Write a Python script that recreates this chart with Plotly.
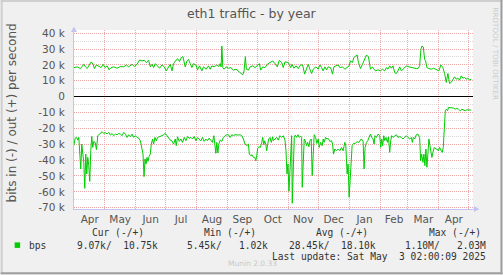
import pandas as pd
import plotly.graph_objects as go

# ---------------- data (values in kbit/s, day offsets from 2024-04-01) ----------------
BASE = "2024-04-01"

out_days = [-1.0, 2.4, 5.7, 9.0, 10.7, 12.4, 14.0, 16.4, 18.4, 19.7, 21.7, 24.0, 26.4, 28.4, 30.4,
            32.4, 34.4, 36.4, 39.0, 42.4, 45.7, 49.0, 51.7, 54.0, 57.4, 59.7, 62.4, 65.0, 67.4,
            69.7, 71.7, 74.0, 75.7, 77.4, 79.0, 80.7, 83.0, 85.0, 87.4, 89.7, 91.7, 93.7, 95.7,
            97.4, 99.0, 101.0, 103.0, 105.0, 106.7, 108.4, 110.7, 112.4, 114.0, 115.7, 117.4,
            119.0, 121.7, 123.0, 125.0, 127.4, 129.0, 131.7, 134.0, 135.7, 137.4, 139.7, 142.4,
            144.4, 145.7, 146.7, 147.4, 148.4, 149.7, 151.7, 154.0, 156.4, 159.0, 161.7, 164.0,
            166.4, 168.4, 169.7, 171.0, 172.0, 174.0, 175.7, 178.4, 180.7, 183.0, 185.0, 186.4,
            188.4, 190.7, 193.0, 195.7, 198.4, 200.7, 203.0, 205.0, 207.4, 209.0, 210.7, 214.0,
            216.4, 217.7, 219.7, 221.7, 224.0, 226.4, 228.4, 230.4, 232.4, 234.0, 235.7, 237.4,
            239.0, 241.7, 244.0, 245.7, 247.4, 249.0, 250.7, 252.4, 254.0, 256.4, 258.4, 259.7,
            261.7, 264.0, 265.7, 268.4, 270.7, 273.0, 275.0, 276.4, 278.4, 279.7, 281.7, 283.0,
            284.4, 286.4, 288.4, 290.0, 292.4, 294.4, 296.4, 298.4, 299.7, 301.7, 304.0, 306.4,
            308.4, 310.7, 312.4, 314.0, 315.7, 317.4, 319.0, 320.7, 322.4, 324.0, 325.7, 327.4,
            329.0, 330.7, 332.4, 335.0, 337.4, 339.7, 342.4, 344.4, 345.7, 347.0, 348.0, 349.4,
            350.7, 351.7, 353.0, 355.0, 357.4, 359.7, 361.7, 363.7, 365.0, 367.0, 369.0, 370.7,
            372.4, 374.0, 375.7, 377.4, 379.0, 380.7, 382.4, 384.0, 385.7, 387.4, 389.0, 390.7,
            392.4, 394.0, 395.7, 397.4]
out_k = [18.3, 18.75, 17.7, 20.4, 18.75, 17.7, 19.4, 21.9, 20.4, 17.7, 20.0, 19.0, 18.3, 20.4, 18.3,
         19.4, 16.9, 18.3, 18.75, 17.9, 19.0, 18.75, 20.0, 18.75, 20.4, 19.0, 20.4, 23.1, 22.5,
         22.9, 21.5, 22.9, 18.75, 20.4, 18.3, 20.8, 19.4, 17.9, 20.0, 18.75, 16.25, 18.3, 20.4,
         16.25, 20.8, 22.5, 24.0, 22.1, 24.6, 25.2, 18.75, 22.5, 23.5, 20.8, 18.3,
         20.8, 19.8, 16.9, 19.4, 16.25, 18.75, 17.3, 19.4, 17.3, 19.4, 18.75, 20.0,
         19.0, 20.8, 18.75, 31.9, 18.3, 17.3, 18.75, 17.9, 18.3, 16.7, 17.3, 16.25,
         15.2, 13.75, 16.25, 25.2, 17.3, 16.7, 18.75, 19.4, 18.3, 19.4, 20.8, 16.7,
         18.75, 18.3, 20.4, 21.5, 22.5, 20.8, 18.75, 22.9, 21.5, 18.3, 21.9, 21.5,
         18.3, 20.4, 17.9, 19.4, 17.7, 20.0, 20.0, 14.2, 18.3, 20.4, 17.3, 14.6,
         17.3, 18.75, 17.3, 20.0, 18.3, 16.25, 18.75, 16.9, 18.75, 18.3, 14.2, 18.75,
         19.4, 20.0, 18.3, 18.75, 17.3, 18.3, 19.4, 22.5, 21.5, 24.6, 25.6, 26.3,
         21.5, 17.7, 20.4, 22.5, 26.3, 25.0, 17.3, 18.75, 17.3, 16.25, 16.9, 16.25,
         17.3, 16.25, 18.3, 17.3, 19.4, 17.9, 19.4, 15.2, 14.6, 16.25, 18.75, 16.25,
         17.3, 18.3, 19.4, 18.75, 18.3, 17.9, 17.7, 17.9, 19.4, 29.8, 31.9, 31.3,
         23.5, 22.5, 18.3, 17.7, 17.3, 17.9, 17.3, 16.25, 16.25, 20.0, 18.3, 14.6,
         9.0, 14.6, 8.3, 9.0, 10.4, 12.5, 11.0, 11.7, 10.4, 13.1, 11.7, 12.1,
         11.0, 11.7, 10.4, 11.0]

in_days = [-1.0, 0.4, 1.7, 3.0, 4.0, 5.0, 6.0, 7.0, 8.0, 9.0, 10.0, 11.0, 12.0, 13.0, 14.0, 15.0,
           16.0, 17.0, 18.0, 19.0, 20.4, 21.7, 23.0, 24.4, 25.7, 27.4, 29.0, 30.7, 32.4, 34.0,
           35.7, 37.4, 39.0, 40.7, 42.4, 44.0, 45.7, 47.4, 49.0, 50.7, 52.4, 54.0, 55.7, 57.4,
           59.0, 60.7, 62.4, 64.0, 65.7, 67.4, 68.4, 69.4, 70.4, 71.4, 72.4, 73.4, 74.4, 75.7,
           76.7, 78.0, 79.0, 80.4, 81.7, 83.0, 85.0, 87.4, 89.0, 90.7, 92.4, 94.0, 95.7,
           97.4, 99.0, 100.7, 101.7, 103.0, 104.7, 106.4, 108.0, 109.7, 111.4, 113.0, 114.7,
           116.4, 118.0, 119.7, 121.4, 123.0, 124.7, 126.4, 128.0, 129.7, 131.4, 133.0, 134.7,
           136.4, 138.0, 139.4, 140.4, 141.4, 142.4, 143.4, 144.4, 145.7, 147.4, 149.0, 150.7,
           152.4, 154.0, 155.7, 157.4, 159.0, 160.7, 162.4, 164.0, 165.7, 167.4, 169.0, 170.7,
           172.4, 174.0, 175.0, 176.4, 177.7, 179.0, 180.4, 181.4, 182.4, 183.4, 184.7, 186.0,
           187.4, 188.4, 189.4, 190.4, 191.4, 192.4, 193.4, 194.4, 195.7, 197.0, 198.4,
           199.0, 200.7, 202.4, 204.0, 205.7, 207.4, 209.0, 210.7, 211.7, 212.7, 213.7, 214.7,
           215.7, 216.7, 217.4, 218.0, 219.0, 220.0, 221.0, 222.4, 223.7, 225.0, 226.4, 227.4,
           228.0, 229.0, 230.0, 231.0, 232.4, 233.4, 234.7, 235.7, 237.0, 238.0, 239.0, 240.0,
           241.4, 242.7, 244.0, 245.0, 246.4, 248.0, 249.0, 250.0, 251.4, 252.7, 254.0, 255.7,
           257.4, 258.4, 259.4, 260.7, 262.4, 264.0, 265.7, 267.4, 269.0, 270.7, 271.7, 273.0,
           274.0, 275.0, 276.0, 277.0, 278.0, 279.4, 281.0, 283.0, 285.0, 287.0, 289.0, 290.0,
           291.0, 292.4, 293.7, 295.0, 296.4, 297.7, 299.0, 300.0,
           301.0, 302.4, 304.0, 305.7, 306.7, 307.7, 308.7, 309.7, 310.7, 312.0, 313.4, 314.4,
           315.7, 316.7, 317.7, 319.0, 320.7, 322.4, 324.0, 325.7, 327.4, 329.0, 330.7, 332.4,
           334.0, 335.7, 337.4, 338.4, 339.4, 340.7, 342.4, 344.0, 345.7, 346.7, 347.7, 349.0,
           350.0, 351.0, 352.0, 353.0, 354.0, 355.0, 356.0, 357.0, 358.0, 359.0, 360.4, 361.7,
           363.0, 364.4, 365.7, 367.4, 368.4, 369.4, 370.4, 371.4, 372.4, 373.7, 374.7, 376.4,
           378.0, 379.7, 381.4, 383.0, 384.7, 386.4, 388.0, 389.7, 391.4, 393.0, 394.7, 395.7,
           397.4]
in_k = [-30.9, -26.1, -25.7, -27.4, -25.7, -34.1, -45.6, -29.9, -36.2, -41.4, -57.8, -36.2, -48.7,
        -38.3, -43.5, -53.4, -34.1, -25.1, -32.0, -28.2, -28.8, -33.4, -24.6, -23.6, -23.2, -22.1,
        -23.2, -22.5, -23.6, -22.5, -24.2, -23.2, -24.6, -23.6, -24.0, -23.2, -23.6, -24.6, -22.5,
        -23.6, -25.7, -24.0, -25.3, -23.6, -25.7, -24.6, -25.7, -26.1, -27.8, -32.0, -36.2, -50.4,
        -39.3, -42.5, -38.3, -40.8, -37.8, -36.2, -29.9, -26.7, -29.9, -25.7, -27.8, -25.7, -25.3,
        -24.6, -24.0, -23.2, -24.6, -25.7, -27.4,
        -27.8, -29.9, -26.7, -30.9, -25.3, -28.2, -26.7, -28.8, -25.7, -27.8, -25.1, -26.3,
        -25.7, -26.7, -25.1, -27.8, -25.7, -27.1, -27.8, -25.7, -28.2, -26.7, -27.8, -26.1,
        -27.4, -28.8, -24.6, -32.0, -35.7, -28.8, -35.5, -29.9, -27.4, -28.2, -25.7, -24.6,
        -24.0, -24.0, -25.7, -24.0, -24.6, -24.0, -24.2, -24.2, -24.0, -24.6, -26.7, -29.9,
        -30.9, -29.9, -36.2, -37.2, -36.6, -38.3, -38.3, -40.4, -37.2, -32.4, -31.6, -32.0,
        -28.8, -25.7, -30.3, -27.8, -29.9, -34.1, -29.9, -26.7, -25.7, -28.8, -25.3,
        -27.8, -26.7, -25.7, -27.4, -24.6, -25.7, -24.6, -27.4, -34.1, -48.7, -42.5, -59.6,
        -46.6, -34.1, -24.6, -67.2, -42.5, -25.7, -24.2, -25.7, -24.0, -25.7, -24.8, -25.7,
        -57.1, -34.1, -26.7, -27.8, -30.9, -28.8, -31.6, -27.8, -26.7, -49.8, -36.2, -24.0,
        -25.7, -29.5, -26.7, -32.0, -28.8, -30.9, -26.7, -28.8, -25.7, -26.7, -26.3, -28.2,
        -27.8, -29.9, -36.2, -33.0, -34.1, -33.0, -34.1, -32.0, -34.1, -28.8, -30.9, -48.7,
        -42.5, -63.4, -53.0, -36.2, -30.9, -29.5, -29.5, -28.4, -28.8, -26.7, -27.8, -45.6,
        -32.0, -28.8, -27.8, -25.7, -23.6, -25.7, -26.7, -29.9,
        -24.6, -25.7, -23.6, -24.6, -32.0, -26.7, -30.9, -24.6, -27.8, -25.7, -28.8, -25.3,
        -35.1, -27.8, -24.6, -25.7, -24.6, -24.0, -25.7, -25.1, -25.7, -26.7, -25.7, -24.6,
        -25.7, -26.7, -25.7, -28.8, -25.7, -26.7, -24.0, -23.6, -25.7, -40.4, -36.2, -41.4,
        -36.2, -43.5, -33.0, -44.5, -36.2, -26.7, -30.9, -36.2, -38.3, -35.1, -32.0, -33.0,
        -33.0, -34.1, -32.0, -34.1, -35.1, -32.0, -17.3, -8.9, -7.9, -8.9, -6.8, -6.8,
        -6.8, -7.2, -7.9, -7.4, -7.9, -8.9, -7.9, -8.5, -8.9, -8.3, -8.3, -8.5,
        -8.5]

y_tick_vals = [-70, -60, -50, -40, -30, -20, -10, 0, 10, 20, 30, 40]
y_tick_text = ["-70 k", "-60 k", "-50 k", "-40 k", "-30 k", "-20 k", "-10 k", "0",
               "10 k", "20 k", "30 k", "40 k"]

legend_heads = ["Cur (-/+)", "Min (-/+)", "Avg (-/+)", "Max (-/+)"]
legend_vals = ["9.07k/  10.75k", "5.45k/   1.02k", "28.45k/  18.10k", "1.10M/   2.03M"]
series_name = "bps"
last_update = "Last update: Sat May  3 02:00:09 2025"

# ---------------- figure ----------------
W, H = 503, 275
L, R, T, B = 73.5, 29.5, 30, 65.5
PW, PH = W - L - R, H - T - B


def fx(px):
    return (px - L) / PW


def fy(py):
    return (H - B - py) / PH


base = pd.Timestamp(BASE)
x_out = base + pd.to_timedelta(out_days, unit="D")
x_in = base + pd.to_timedelta(in_days, unit="D")
GREEN = "#00CC00"

fig = go.Figure()
fig.add_trace(go.Scatter(x=x_out, y=[v * 1000 for v in out_k], mode="lines",
                         line=dict(color=GREEN, width=1), showlegend=False, hoverinfo="skip"))
fig.add_trace(go.Scatter(x=x_in, y=[v * 1000 for v in in_k], mode="lines",
                         line=dict(color=GREEN, width=1), showlegend=False, hoverinfo="skip"))

AX = "#C4C4F2"
GRID_MAJ = "#EBA8A8"
GRID_MIN = "#D8D8D8"
TXT = "#555555"

fig.update_layout(
    width=W, height=H,
    margin=dict(l=L, r=R, t=T, b=B, pad=0),
    paper_bgcolor="#F0F0F0", plot_bgcolor="#FFFFFF",
    font=dict(family="DejaVu Sans", size=10, color=TXT),
    showlegend=False,
    xaxis=dict(
        type="date",
        range=[base - pd.Timedelta(days=0.8), base + pd.Timedelta(days=399.2)],
        tick0=BASE, dtick="M1", tickformat="%b", ticklabelmode="period",
        showgrid=True, gridcolor=GRID_MAJ, griddash="1px,1px", gridwidth=1,
        showline=True, linecolor=AX, linewidth=1, ticks="",
        tickfont=dict(family="DejaVu Sans", size=10.5, color=TXT),
        zeroline=False, fixedrange=True,
    ),
    yaxis=dict(
        range=[-70800, 42000],
        tickvals=[v * 1000 for v in y_tick_vals], ticktext=y_tick_text,
        showgrid=True, gridcolor=GRID_MAJ, griddash="1px,1px", gridwidth=1,
        minor=dict(dtick=5000, tick0=0, showgrid=True, gridcolor=GRID_MIN,
                   griddash="1px,1px", gridwidth=1, ticks=""),
        zeroline=True, zerolinecolor="#000000", zerolinewidth=1,
        showline=True, linecolor=AX, linewidth=1, ticks="",
        ticklabelstandoff=6,
        tickfont=dict(family="DejaVu Sans", size=10.5, color=TXT),
        fixedrange=True,
    ),
)

ann = []


def add_text(text, px, py, size=9.6, family="DejaVu Sans Mono", color="#333333",
             xanchor="center", angle=0):
    ann.append(dict(text=text.replace(" ", "\u00a0"), x=fx(px), y=fy(py), xref="paper",
                    yref="paper", showarrow=False, xanchor=xanchor, yanchor="middle",
                    font=dict(family=family, size=size, color=color), textangle=angle))


add_text("eth1 traffic - by year", 252, 13, size=12.5, family="DejaVu Sans", color=TXT)
add_text("bits in (-) / out (+) per second", 11.5, 113.5, size=12, family="DejaVu Sans",
         color=TXT, angle=-90)
add_text("RRDTOOL / TOBI OETIKER", 496, 54, size=7.2, family="DejaVu Sans",
         color="#CCCCCC", angle=90)

head_cx = [118, 230, 342, 455]
val_rx = [159.5, 269.5, 378.5, 488.5]
for h, cx in zip(legend_heads, head_cx):
    add_text(h, cx, 233.3)
for v, rx in zip(legend_vals, val_rx):
    add_text(v, rx, 245.7, xanchor="right")
add_text(series_name, 26.5, 245.7, xanchor="left")
add_text(last_update, 488.5, 257.3, xanchor="right")
add_text("Munin 2.0.33", 252, 264, size=7.5, family="DejaVu Sans", color="#C8C8C8")

fig.update_layout(annotations=ann)

shapes = []


def rect_px(x0, y0, x1, y1, color):
    shapes.append(dict(type="rect", xref="paper", yref="paper", x0=fx(x0), x1=fx(x1),
                       y0=fy(y0), y1=fy(y1), fillcolor=color, line=dict(width=0)))


def tri_px(pts, color):
    path = "M " + " L ".join(f"{fx(a)} {fy(b)}" for a, b in pts) + " Z"
    shapes.append(dict(type="path", xref="paper", yref="paper", path=path,
                       fillcolor=color, line=dict(width=0)))


# legend colour box
rect_px(14, 243, 19.5, 248.5, GREEN)
# axis arrows
tri_px([(70.5, 32), (76.5, 32), (73.5, 26.5)], AX)
tri_px([(474.5, 206.5), (474.5, 212.5), (480, 209.5)], AX)
# x axis extension to arrow
rect_px(473.5, 209, 475, 210, AX)
# image border
rect_px(0, 0, W, 2, "#CFCFCF")
rect_px(0, 0, 2, H, "#CFCFCF")
rect_px(0, H - 2, W, H, "#9E9E9E")
rect_px(W - 2, 0, W, H, "#9E9E9E")

fig.update_layout(shapes=shapes)

fig.write_html("out.html")
